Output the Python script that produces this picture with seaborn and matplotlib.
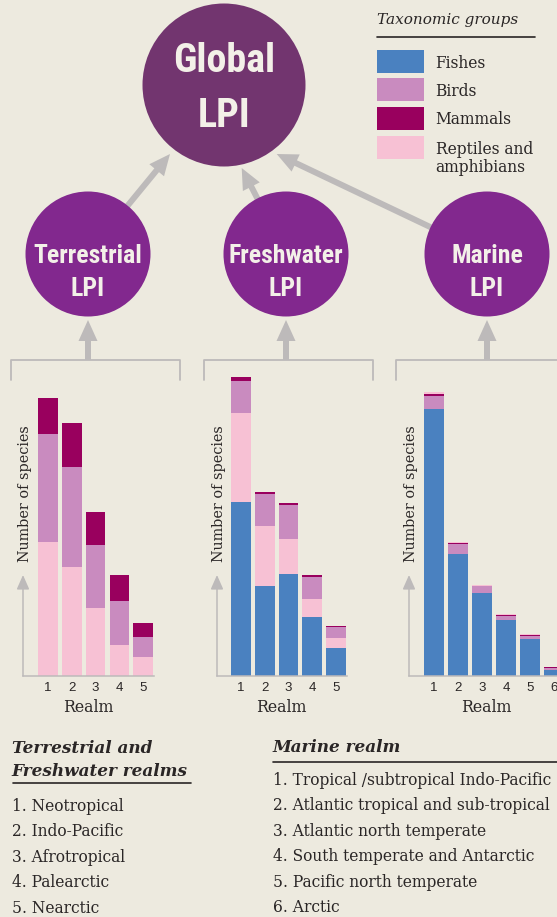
import numpy as np
import matplotlib
matplotlib.use("Agg")
import matplotlib.pyplot as plt
import seaborn as sns
from matplotlib import font_manager
from matplotlib.patches import Circle, Rectangle

# Realm ticks
realms_tf = ['1', '2', '3', '4', '5']
realms_marine = ['1', '2', '3', '4', '5', '6']

# Number of species per group (arbitrary units)
terr_reptiles = [134, 109, 68, 31, 19]
terr_birds = [108, 100, 63, 44, 20]
terr_mammals = [36, 44, 33, 26, 14]

fresh_fishes = [174, 90, 102, 59, 28]
fresh_reptiles = [89, 60, 35, 18, 10]
fresh_birds = [32, 32, 34, 22, 11]
fresh_mammals = [4, 2, 2, 2, 1]

marine_fishes = [267, 122, 83, 56, 37, 6]
marine_birds = [13, 10, 7, 4, 3, 2]
marine_mammals = [2, 1, 0.5, 1, 1, 1]
marine_reptiles = [2, 1, 1, 1, 1, 0.5]

groups = ['Fishes', 'Birds', 'Mammals', 'Reptiles and\namphibians']
terr_fresh_names = ['1. Neotropical', '2. Indo-Pacific', '3. Afrotropical',
                    '4. Palearctic', '5. Nearctic']
marine_names = ['1. Tropical /subtropical Indo-Pacific',
                '2. Atlantic tropical and sub-tropical',
                '3. Atlantic north temperate',
                '4. South temperate and Antarctic',
                '5. Pacific north temperate',
                '6. Arctic']

# Colours
BG = '#edeadf'
TXT = '#2a2626'
GRAY = '#bdbaba'
colors = {'Fishes': '#4a81c0', 'Birds': '#c98bbf', 'Mammals': '#99005e',
          'Reptiles': '#f7c1d4'}
GLOBAL_C = '#72356f'
SMALL_C = '#82288e'
CIRCLE_TXT = '#f3f0e8'

sns.set_style("white")
plt.rcParams['font.family'] = ['DejaVu Serif']

# condensed face for the LPI bubbles, whatever is installed
names = {f.name for f in font_manager.fontManager.ttflist}
cond = [n for n in ['Roboto Condensed', 'Liberation Sans Narrow', 'Open Sans Condensed',
                    'Noto Sans Display', 'DejaVu Sans'] if n in names]
cond_family = cond[0] if cond else 'DejaVu Sans'

W, H = 557, 917
fig = plt.figure(figsize=(W / 100, H / 100), dpi=100, facecolor=BG)

# overlay in pixel units for the diagram part
bg = fig.add_axes([0, 0, 1, 1])
bg.set_xlim(0, W)
bg.set_ylim(H, 0)
bg.axis('off')

# brackets over each panel
bg.plot([11, 11, 180, 180], [380, 360, 360, 380], color=GRAY, lw=1.3)
bg.plot([204, 204, 372.5, 372.5], [380, 360, 360, 380], color=GRAY, lw=1.3)
bg.plot([396, 396, 560], [380, 360, 360], color=GRAY, lw=1.3)

# arrows
small_x = [88, 286, 487]
tips = [(170, 154), (241.7, 168), (276.7, 154)]
for cx, (tx, ty) in zip(small_x, tips):
    bg.arrow(cx, 360, 0, -40, width=6, head_width=19, head_length=21,
             length_includes_head=True, color=GRAY, lw=0, zorder=1)
    bg.arrow(cx, 254, tx - cx, ty - 254, width=6, head_width=19, head_length=21,
             length_includes_head=True, color=GRAY, lw=0, zorder=1)

# bubbles
bg.add_patch(Circle((224, 85), 81.5, color=GLOBAL_C, lw=0, zorder=2))
for cx in small_x:
    bg.add_patch(Circle((cx, 254), 62.5, color=SMALL_C, lw=0, zorder=2))

tkw = dict(ha='center', va='baseline', color=CIRCLE_TXT, family=cond_family,
           weight='bold', fontstretch='condensed', zorder=3)
t_global = bg.text(224, 72, 'Global', fontsize=30, **tkw)
t_glpi = bg.text(224, 127, 'LPI', fontsize=30, **tkw)
small_txt = []
for cx, name in zip(small_x, ['Terrestrial', 'Freshwater', 'Marine']):
    small_txt.append(bg.text(cx, 263, name, fontsize=20, **tkw))
    small_txt.append(bg.text(cx, 296, 'LPI', fontsize=20, **tkw))

# fit bubble text widths
renderer = fig.canvas.get_renderer()
k = 102 / t_global.get_window_extent(renderer).width
for t in [t_global, t_glpi]:
    t.set_fontsize(t.get_fontsize() * k)
k = 114 / small_txt[2].get_window_extent(renderer).width
for t in small_txt:
    t.set_fontsize(t.get_fontsize() * k)

# legend
bg.text(377, 24, 'Taxonomic groups', fontsize=11, style='italic', color=TXT, va='baseline')
bg.plot([377, 535], [37, 37], color=TXT, lw=1.2)
sw_tops = [50, 78, 107, 136]
for top, g, key in zip(sw_tops, groups, ['Fishes', 'Birds', 'Mammals', 'Reptiles']):
    bg.add_patch(Rectangle((377, top), 47, 23, color=colors[key], lw=0))
    for j, line in enumerate(g.split('\n')):
        bg.text(435.5, top + 17.5 + 18.5 * j, line, fontsize=11.2, color=TXT, va='baseline')

# realm lists
hkw = dict(fontsize=12.5, weight='bold', style='italic', color=TXT, va='baseline')
h1 = bg.text(11.7, 753.3, 'Terrestrial and', **hkw)
h2 = bg.text(11.7, 775.7, 'Freshwater realms', **hkw)
h3 = bg.text(272.7, 752, 'Marine realm', **hkw)
k = 176.7 / h2.get_window_extent(renderer).width
for t in [h1, h2, h3]:
    t.set_fontsize(t.get_fontsize() * k)
bg.plot([12.7, 190.7], [783.3, 783.3], color=TXT, lw=1.2)
bg.plot([272.7, 557], [761.7, 761.7], color=TXT, lw=1.2)
for i, name in enumerate(terr_fresh_names):
    bg.text(11.7, 810.7 + 25.5 * i, name, fontsize=11.2, color=TXT, va='baseline')
for i, name in enumerate(marine_names):
    bg.text(273.3, 785 + 25.4 * i, name, fontsize=11.2, color=TXT, va='baseline')


# stacked bar panels
def panel(x0, x1, c0, step, realms, layers):
    ax = fig.add_axes([x0 / W, 1 - 676 / H, (x1 - x0) / W, 304 / H])
    cum = np.cumsum([v for v, _ in layers], axis=0)
    for i in range(len(layers) - 1, -1, -1):
        sns.barplot(x=realms, y=cum[i], color=layers[i][1], saturation=1,
                    width=0.83, linewidth=0, errorbar=None, ax=ax)
    ax.set_xlim((x0 - c0) / step, (x1 - c0) / step)
    ax.set_ylim(0, 304)
    ax.set_facecolor('none')
    for s in ['top', 'right', 'left']:
        ax.spines[s].set_visible(False)
    ax.spines['bottom'].set_color(GRAY)
    ax.spines['bottom'].set_linewidth(1.1)
    ax.set_yticks([])
    ax.tick_params(axis='x', length=0, pad=4, labelsize=9.5, labelcolor=TXT)
    for lab in ax.get_xticklabels():
        lab.set_fontfamily(['Liberation Sans', 'DejaVu Sans'])
    ax.set_xlabel('Realm', fontsize=11.3, color=TXT, labelpad=4)
    ax.set_ylabel('Number of species', fontsize=10.4, color=TXT)
    ax.yaxis.set_label_coords(9 / (x1 - x0), (676 - 494) / 304)
    xl = ax.get_xlim()[0]
    ax.annotate('', xy=(xl, 101), xytext=(xl, 0),
                arrowprops=dict(arrowstyle='-|>,head_length=0.43,head_width=0.19',
                                mutation_scale=20, color=GRAY, lw=1.1,
                                shrinkA=0, shrinkB=0))
    return ax


panel(23, 154, 48, 23.8, realms_tf,
      [(terr_reptiles, colors['Reptiles']), (terr_birds, colors['Birds']),
       (terr_mammals, colors['Mammals'])])
panel(217, 346.5, 241, 23.75, realms_tf,
      [(fresh_fishes, colors['Fishes']), (fresh_reptiles, colors['Reptiles']),
       (fresh_birds, colors['Birds']), (fresh_mammals, colors['Mammals'])])
panel(409, 564, 434, 24, realms_marine,
      [(marine_fishes, colors['Fishes']), (marine_birds, colors['Birds']),
       (marine_mammals, colors['Mammals']), (marine_reptiles, colors['Reptiles'])])

plt.savefig('out.png', dpi=100, facecolor=BG)
